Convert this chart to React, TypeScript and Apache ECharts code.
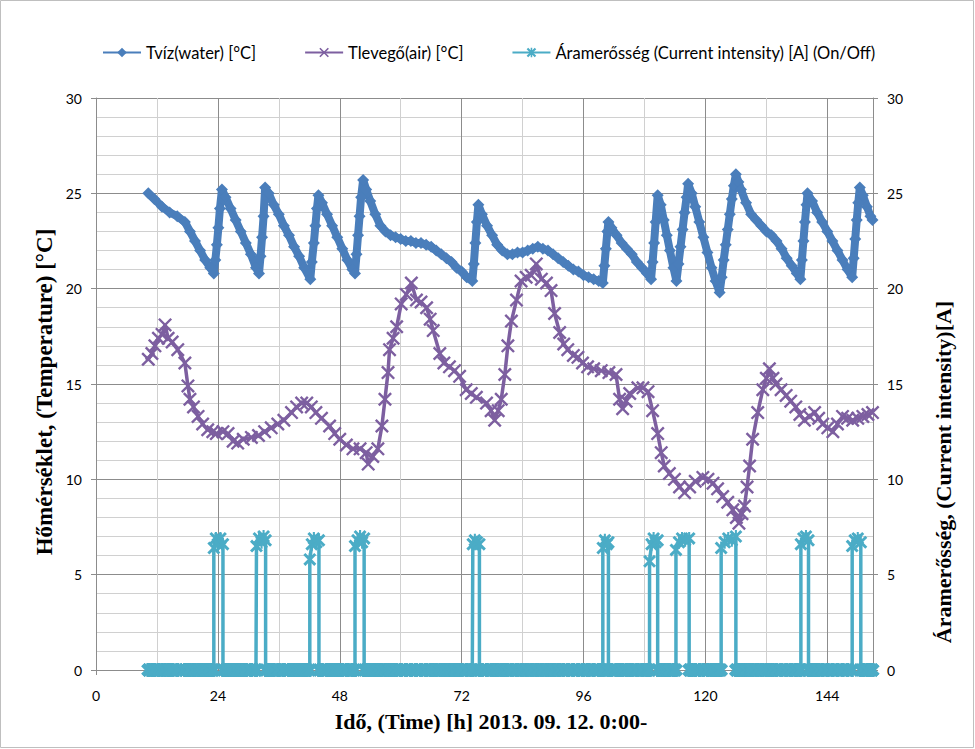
import React, { useEffect, useRef } from 'react';
import * as echarts from 'echarts';

// ---- data ----
const xLabelStep = 24;
const legendNames = [
  'Tvíz(water) [°C]',
  'Tlevegő(air) [°C]',
  'Áramerősség (Current intensity) [A] (On/Off)',
];

// water temperature [h, °C]
const waterT: [number, number][] = [
  [10.3, 25.0], [11.5, 24.7], [13, 24.3], [14.5, 24.0], [16, 23.8], [17.5, 23.5], [18.5, 23.0], [19.5, 22.5],
  [20.5, 22.0], [21.5, 21.5], [22.5, 21.1], [23.2, 20.8],
  [23.5, 21.5], [23.8, 22.3], [24.1, 23.2], [24.4, 24.2], [24.8, 25.2],
  [25.5, 24.8], [26.5, 24.2], [27.5, 23.6], [28.5, 23.0], [29.5, 22.4], [30.5, 21.8], [31.5, 21.1], [32.1, 20.8],
  [32.4, 21.7], [32.7, 22.7], [33.0, 23.8], [33.3, 25.3],
  [34, 25.0], [35, 24.4], [36, 23.9], [37, 23.3], [38, 22.8], [39, 22.2], [40, 21.7], [41, 21.1], [42.2, 20.5],
  [42.5, 21.4], [42.9, 22.4], [43.2, 23.3], [43.5, 24.2], [43.8, 24.9],
  [44.5, 24.5], [45.5, 23.9], [46.5, 23.3], [47.5, 22.7], [48.5, 22.1], [49.5, 21.5], [50.5, 21.0], [51, 20.8],
  [51.3, 21.8], [51.6, 22.8], [51.9, 23.8], [52.2, 24.8], [52.6, 25.7],
  [53.2, 25.2], [54, 24.6], [55, 23.9], [56, 23.3], [57, 23.0], [58, 22.8], [59, 22.7], [60, 22.6], [61, 22.5],
  [62, 22.5], [63, 22.4], [64, 22.4], [65, 22.3], [66, 22.2], [67, 22.0], [68, 21.8], [69, 21.6], [70, 21.4],
  [71, 21.1], [72, 20.9], [73, 20.6], [74.1, 20.4],
  [74.4, 21.3], [74.7, 22.4], [75.0, 23.5], [75.3, 24.4],
  [76, 23.9], [77, 23.3], [78, 22.8], [79, 22.3], [80, 22.0], [81, 21.8], [82, 21.8], [83, 21.9], [84, 21.9],
  [85, 22.0], [86, 22.1], [87, 22.2], [88, 22.1], [89, 22.0], [90, 21.8], [91, 21.6], [92, 21.4], [93, 21.2],
  [94, 21.0], [95, 20.9], [96, 20.7], [97, 20.6], [98, 20.5], [99, 20.4], [99.8, 20.3],
  [100.1, 21.2], [100.4, 22.1], [100.7, 23.0], [100.9, 23.5],
  [101.5, 23.2], [102.5, 22.8], [103.5, 22.4], [104.5, 22.1], [105.5, 21.8], [106.5, 21.4], [107.5, 21.1],
  [108.5, 20.8], [109.3, 20.5],
  [109.6, 21.4], [109.9, 22.4], [110.2, 23.5], [110.6, 24.9],
  [111.2, 24.4], [111.8, 23.6], [112.4, 22.8], [113, 22.0], [113.7, 21.1], [114.3, 20.4],
  [114.7, 21.3], [115.1, 22.2], [115.5, 23.1], [115.9, 24.0], [116.3, 24.8], [116.6, 25.5],
  [117.3, 25.0], [118, 24.3], [118.8, 23.5], [119.6, 22.7], [120.4, 21.9], [121.2, 21.1], [122, 20.4], [122.8, 19.8],
  [123.2, 20.6], [123.6, 21.5], [124, 22.3], [124.4, 23.1], [124.8, 23.9], [125.2, 24.7], [125.6, 25.4], [126, 26.0],
  [126.5, 25.6], [127, 25.2], [128, 24.5], [129, 23.9], [130, 23.6], [131, 23.3], [132, 23.0], [133, 22.8],
  [134, 22.5], [135, 22.1], [136, 21.6], [137, 21.2], [138, 20.8], [138.7, 20.5],
  [139, 21.5], [139.3, 22.5], [139.6, 23.5], [139.9, 24.4], [140.1, 25.0],
  [141, 24.6], [142, 24.0], [143, 23.5], [144, 23.0], [145, 22.5], [146, 22.0], [147, 21.5], [148, 21.0], [148.9, 20.6],
  [149.2, 21.6], [149.5, 22.6], [149.8, 23.6], [150.1, 24.5], [150.4, 25.3],
  [151, 24.9], [151.8, 24.3], [152.5, 23.8], [152.9, 23.6],
];

// air temperature [h, °C]
const airT: [number, number][] = [
  [10.3, 16.3], [11, 16.6], [11.6, 17.0], [12.3, 17.4], [13, 17.6], [13.6, 18.1], [14.2, 17.4], [15, 17.2],
  [16.1, 16.8], [17.5, 16.1], [18.1, 14.9], [18.5, 14.2], [19.2, 13.8], [20.1, 13.3], [21, 12.9], [22, 12.6],
  [23, 12.5], [23.7, 12.4], [25, 12.5], [26, 12.4], [27, 12.0], [27.9, 11.9], [29, 12.1], [30.6, 12.2],
  [32, 12.3], [33.2, 12.5], [34.5, 12.7], [35.8, 12.9], [37, 13.1], [38.5, 13.5], [39.5, 13.8], [40.5, 14.0],
  [41.5, 14.0], [42.4, 13.8], [43.3, 13.5], [44.4, 13.2], [46, 12.8], [47, 12.4], [48, 12.1], [49.3, 11.8],
  [50.6, 11.6], [52, 11.6], [53.2, 11.4], [53.6, 10.8], [54.5, 11.2], [55.5, 11.6], [56.3, 12.8], [56.9, 14.2],
  [57.5, 15.6], [57.8, 16.8], [58.5, 17.4], [59.2, 18.0], [60.1, 19.2], [61.1, 19.7], [62.1, 20.3], [63.1, 19.4],
  [64, 19.3], [65.1, 19.0], [65.8, 18.4], [66.4, 17.8], [67.7, 16.6], [68.5, 16.1], [69.6, 15.9], [70.6, 15.7],
  [71.6, 15.4], [72.9, 14.7], [73.9, 14.5], [74.9, 14.3], [76.9, 14.0], [77.8, 13.6], [78.5, 13.1], [79.2, 13.6],
  [79.8, 14.2], [80.5, 15.5], [81.1, 17.0], [81.8, 18.3], [82.8, 19.4], [83.7, 20.4], [84.7, 20.6], [85.7, 20.7],
  [86.7, 21.3], [87.7, 20.5], [88.7, 20.3], [89.6, 19.9], [90.3, 18.7], [91.3, 17.7], [92.1, 17.1], [92.9, 16.8],
  [94, 16.5], [94.9, 16.4], [95.8, 16.1], [96.8, 15.9], [98, 15.8], [99.5, 15.7], [101, 15.6], [102.4, 15.5],
  [103.1, 14.2], [103.7, 13.7], [104.4, 14.1], [105.1, 14.5], [106.7, 14.8], [107.7, 14.8], [108.7, 14.6],
  [109.6, 13.6], [110.6, 12.4], [111.3, 11.4], [111.9, 10.7], [112.9, 10.3], [113.9, 10.0], [114.9, 9.6],
  [115.9, 9.3], [116.9, 9.6], [118, 9.9], [119.5, 10.1], [120.5, 10.0], [121.5, 9.8], [122.4, 9.5], [123.4, 9.1],
  [124.4, 8.8], [125.4, 8.4], [126.1, 8.0], [126.6, 7.7], [127.2, 8.2], [127.7, 8.6], [128.2, 9.6], [128.7, 10.7],
  [129.3, 12.1], [130.3, 13.5], [131.3, 14.7], [132, 15.3], [132.6, 15.8], [133.3, 15.3], [133.9, 15.0],
  [134.9, 14.7], [135.9, 14.4], [136.8, 14.1], [137.8, 13.8], [138.6, 13.4], [139.5, 13.1], [140.5, 13.3],
  [141.5, 13.5], [142.3, 13.2], [143.1, 12.9], [144.1, 12.7], [145.1, 12.5], [146, 12.9], [147, 13.3],
  [148, 13.2], [149, 13.1], [150, 13.2], [151, 13.3], [152, 13.4], [152.9, 13.5],
];

// current on-periods: readings [h, A] while the heater was on (off = 0 A)
const currentOnPeriods: [number, number][][] = [
  [[23.2, 6.4], [23.6, 6.9], [24.0, 6.6], [24.5, 6.9], [25.0, 6.6]],
  [[31.6, 6.5], [32.1, 6.9], [32.6, 6.7], [33.0, 7.0], [33.4, 6.8]],
  [[42.1, 5.8], [42.5, 6.6], [42.9, 6.9], [43.4, 6.7], [43.9, 6.8]],
  [[51.0, 6.5], [51.5, 6.8], [52.0, 7.0], [52.4, 6.7], [52.8, 6.9]],
  [[74.2, 6.6], [74.6, 6.8], [75.0, 6.7], [75.5, 6.6]],
  [[99.8, 6.4], [100.2, 6.8], [100.6, 6.6], [100.9, 6.7]],
  [[109.0, 5.7], [109.4, 6.6], [109.8, 6.9], [110.2, 6.7], [110.6, 6.8]],
  [[114.2, 6.3], [114.8, 6.7], [115.4, 6.9], [116.0, 6.8], [116.8, 6.9]],
  [[123.1, 6.4], [123.8, 6.7], [124.5, 6.9], [125.2, 6.8], [126.0, 7.0]],
  [[138.8, 6.6], [139.3, 6.9], [139.8, 7.0], [140.3, 6.8]],
  [[148.9, 6.5], [149.4, 6.8], [150.0, 6.9], [150.6, 6.7]],
];

const X_SYMBOL = 'path://M0,1.2 L1.2,0 L10,8.8 L8.8,10 Z M8.8,0 L10,1.2 L1.2,10 L0,8.8 Z';
const STAR_SYMBOL =
  'path://M0,1.6 L1.6,0 L10,8.4 L8.4,10 Z M8.4,0 L10,1.6 L1.6,10 L0,8.4 Z M4.2,0 L5.8,0 L5.8,10 L4.2,10 Z';
const STAR_BOLD_SYMBOL =
  'path://M0,2.4 L2.4,0 L10,7.6 L7.6,10 Z M7.6,0 L10,2.4 L2.4,10 L0,7.6 Z M3.8,0 L6.2,0 L6.2,10 L3.8,10 Z';

// ---- build current series: 0 A at the logging instants outside on-periods ----
function buildCurrent() {
  const logHours = [...waterT.map((p) => p[0]), ...airT.map((p) => p[0])];
  const marks: { p: [number, number]; k: number }[] = [];
  for (const h of logHours) {
    const inside = currentOnPeriods.some((p) => h >= p[0][0] && h <= p[p.length - 1][0]);
    if (!inside) marks.push({ p: [h, 0], k: 0 });
  }
  for (const p of currentOnPeriods) {
    marks.push({ p: [p[0][0], 0], k: -1 });
    p.forEach((q, i) => marks.push({ p: [q[0], q[1]], k: i }));
    marks.push({ p: [p[p.length - 1][0], 0], k: 100 });
  }
  return marks
    .sort((a, b) => a.p[0] - b.p[0] || a.k - b.k)
    .map((o) =>
      o.p[1] === 0 ? { value: o.p, symbol: STAR_BOLD_SYMBOL, symbolSize: 14 } : { value: o.p }
    );
}

const BLUE = '#4a7ebb';
const PURPLE = '#7d5fa0';
const CYAN = '#4bacc6';
const MAJOR = '#8c8c8c';
const MINOR = '#d0d0d0';
const FONT = 'Lato, "Open Sans", sans-serif';
const SERIF = '"Liberation Serif", "DejaVu Serif", serif';

export default function App() {
  const ref = useRef<HTMLDivElement>(null);
  useEffect(() => {
    if (!ref.current) return;
    const chart = echarts.init(ref.current, undefined, { renderer: 'svg' });
    const current = buildCurrent();
    const yAxisBase = {
      type: 'value' as const,
      min: 0,
      max: 30,
      interval: 5,
      axisLine: { show: true, lineStyle: { color: MAJOR, width: 1 } },
      axisTick: { show: true, length: 5, lineStyle: { color: MAJOR } },
      axisLabel: { color: '#000', fontSize: 14, fontFamily: FONT },
    };
    chart.setOption({
      animation: false,
      backgroundColor: '#fff',
      grid: { left: 96, right: 102, top: 98, bottom: 79, containLabel: false, outerBoundsMode: 'none' },
      legend: {
        data: legendNames,
        left: 97,
        top: 39,
        itemWidth: 38,
        itemHeight: 12,
        itemGap: 48,
        textStyle: { color: '#000', fontSize: 16.5, fontFamily: FONT },
      },
      xAxis: {
        type: 'value',
        min: 0,
        max: 153,
        interval: 12,
        axisLine: { show: true, onZero: false, lineStyle: { color: MAJOR } },
        axisTick: { show: true, length: 5, lineStyle: { color: MAJOR } },
        axisLabel: {
          color: '#000',
          fontSize: 14,
          fontFamily: FONT,
          margin: 18,
          formatter: (v: number) => (v % xLabelStep === 0 ? String(v) : ''),
        },
        splitLine: { show: true, lineStyle: { color: [MAJOR, MINOR], width: 1 } },
      },
      yAxis: [
        {
          ...yAxisBase,
          position: 'left',
          axisLabel: { ...yAxisBase.axisLabel, margin: 14 },
          splitLine: { show: true, lineStyle: { color: MAJOR, width: 1 } },
          minorTick: { show: false, splitNumber: 5 },
          minorSplitLine: { show: true, lineStyle: { color: MINOR, width: 1 } },
        },
        {
          ...yAxisBase,
          position: 'right',
          axisLabel: { ...yAxisBase.axisLabel, margin: 14 },
          splitLine: { show: false },
        },
      ],
      series: [
        {
          name: legendNames[0],
          type: 'line',
          data: waterT,
          yAxisIndex: 0,
          symbol: 'diamond',
          symbolSize: 12,
          lineStyle: { color: BLUE, width: 8 },
          itemStyle: { color: BLUE },
          z: 3,
        },
        {
          name: legendNames[1],
          type: 'line',
          data: airT,
          yAxisIndex: 0,
          symbol: X_SYMBOL,
          symbolSize: 14,
          lineStyle: { color: PURPLE, width: 3.5 },
          itemStyle: { color: PURPLE },
          z: 3,
        },
        {
          name: legendNames[2],
          type: 'line',
          data: current,
          yAxisIndex: 1,
          symbol: STAR_SYMBOL,
          symbolSize: 13,
          lineStyle: { color: CYAN, width: 3.5 },
          itemStyle: { color: CYAN },
          z: 4,
        },
      ],
      graphic: [
        {
          type: 'rect',
          silent: true,
          shape: { x: 0.5, y: 0.5, width: 973, height: 747 },
          style: { fill: 'none', stroke: '#bfbfbf', lineWidth: 1 },
        },
        {
          type: 'text',
          x: 491,
          y: 721,
          style: {
            text: 'Idő, (Time) [h] 2013. 09. 12. 0:00-',
            font: `bold 22px ${SERIF}`,
            fill: '#000',
            align: 'center',
            verticalAlign: 'middle',
          },
        },
        {
          type: 'text',
          x: 44,
          y: 392,
          rotation: Math.PI / 2,
          style: {
            text: 'Hőmérséklet, (Temperature) [°C]',
            font: `bold 23px ${SERIF}`,
            fill: '#000',
            align: 'center',
            verticalAlign: 'middle',
          },
        },
        {
          type: 'text',
          x: 943,
          y: 472,
          rotation: Math.PI / 2,
          style: {
            text: 'Áramerősség, (Current intensity)[A]',
            font: `bold 22px ${SERIF}`,
            fill: '#000',
            align: 'center',
            verticalAlign: 'middle',
          },
        },
      ],
    });
    return () => chart.dispose();
  }, []);
  return (
    <div
      ref={ref}
      style={{ position: 'absolute', left: 0, top: 0, width: 975, height: 749, background: '#fff' }}
    />
  );
}
